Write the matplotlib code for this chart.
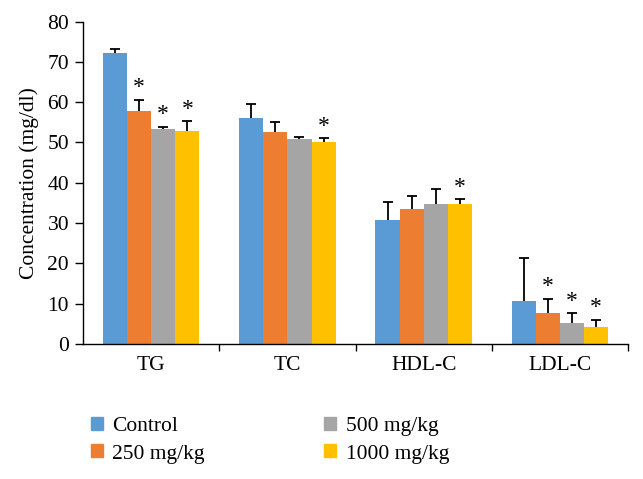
import numpy as np
import matplotlib.pyplot as plt
from matplotlib.patches import Patch

plt.rcParams['font.family'] = ['Liberation Serif', 'DejaVu Serif']

categories = ['TG', 'TC', 'HDL-C', 'LDL-C']
groups = ['Control', '250 mg/kg', '500 mg/kg', '1000 mg/kg']
colors = ['#5B9BD5', '#ED7D31', '#A5A5A5', '#FFC000']

control = [72.2, 56.0, 30.7, 10.6]
dose250 = [57.8, 52.6, 33.4, 7.6]
dose500 = [53.4, 50.8, 34.7, 5.3]
dose1000 = [52.9, 50.2, 34.8, 4.1]

control_err = [0.9, 3.5, 4.6, 10.7]
dose250_err = [2.8, 2.4, 3.3, 3.6]
dose500_err = [0.5, 0.5, 3.8, 2.3]
dose1000_err = [2.3, 0.8, 1.1, 1.9]

# significance markers (True = asterisk)
control_sig = [False, False, False, False]
dose250_sig = [True, False, False, True]
dose500_sig = [True, False, False, True]
dose1000_sig = [True, True, True, True]

values = [control, dose250, dose500, dose1000]
errors = [control_err, dose250_err, dose500_err, dose1000_err]
sigs = [control_sig, dose250_sig, dose500_sig, dose1000_sig]

fs = 15.5

fig = plt.figure(figsize=(6.43, 4.79), dpi=100)
ax = fig.add_axes([0.129, 0.282, 0.848, 0.673])

x = np.arange(len(categories))
w = 0.177
for i, (vals, errs, sg) in enumerate(zip(values, errors, sigs)):
    pos = x + (i - 1.5) * w
    ax.bar(pos, vals, w, color=colors[i], label=groups[i], zorder=2)
    eb = ax.errorbar(pos, vals, yerr=[np.zeros(len(errs)), errs], fmt='none',
                     ecolor='black', elinewidth=1.3, capsize=3.5, capthick=1.3, zorder=3)
    eb[1][0].set_visible(False)  # hide the lower cap, bars only go up
    for p, v, e, s in zip(pos, vals, errs, sg):
        if s:
            ax.annotate('*', (p, v + e), xytext=(0, 1), textcoords='offset points',
                        ha='center', va='bottom', fontsize=17)

ax.set_xlim(-0.5, 3.5)
ax.set_ylim(0, 80)
ax.set_yticks(range(0, 81, 10))
ax.set_xticks(x)
ax.set_xticklabels(categories)
ax.set_xticks(np.arange(0.5, 3.6, 1), minor=True)
ax.tick_params(axis='x', which='major', length=0, pad=9, labelsize=fs)
ax.tick_params(axis='x', which='minor', length=5, width=1, direction='out')
ax.tick_params(axis='y', length=6, width=1, direction='out', labelsize=fs, pad=4)
ax.spines['top'].set_visible(False)
ax.spines['right'].set_visible(False)
ax.spines['left'].set_linewidth(1)
ax.spines['bottom'].set_linewidth(1)
ax.set_ylabel('Concentration (mg/dl)', fontsize=fs, labelpad=6)

handles = [Patch(color=c) for c in colors]
fig.legend(handles, groups, loc='upper left', bbox_to_anchor=(0.128, 0.148),
           ncol=2, frameon=False, fontsize=fs, handlelength=0.55, handleheight=0.55,
           handletextpad=0.45, columnspacing=5.55, labelspacing=0.4, borderaxespad=0)

fig.savefig('out.png', dpi=100)
